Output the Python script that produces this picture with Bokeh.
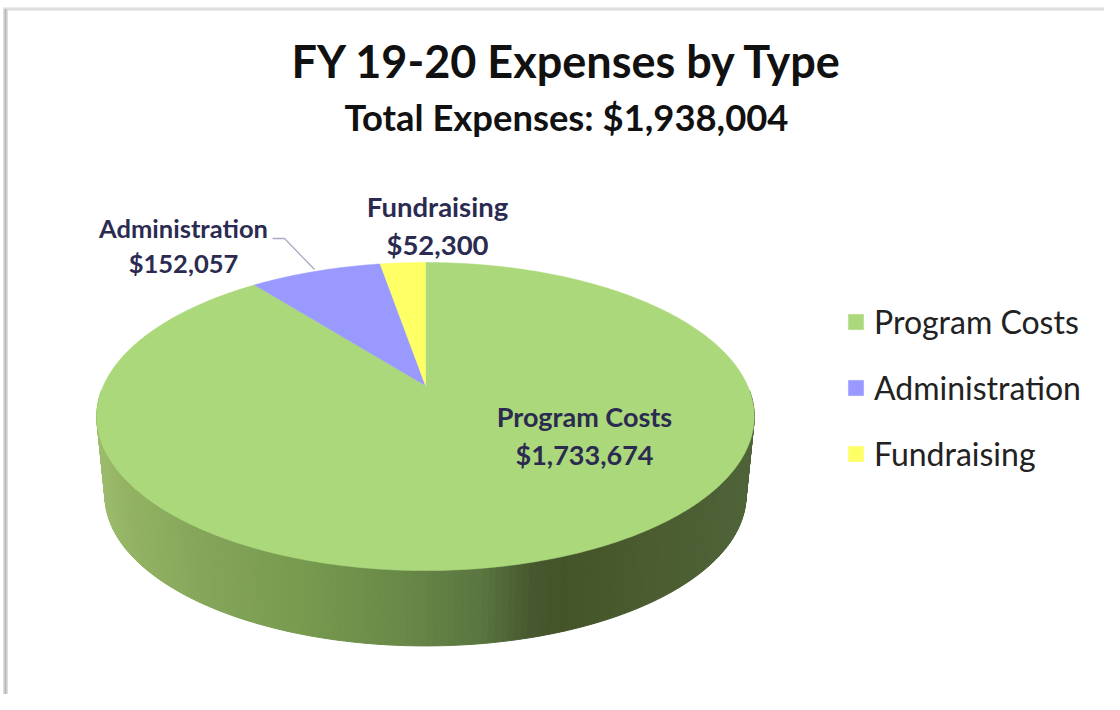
import numpy as np
from bokeh.core.properties import value
from bokeh.embed import file_html
from bokeh.models import Legend, LegendItem, Range1d, Title
from bokeh.plotting import figure
from bokeh.resources import INLINE

# ---- data ----
title_text = "FY 19-20 Expenses by Type"
subtitle_text = "Total Expenses: $1,938,004"
categories = ["Program Costs", "Administration", "Fundraising"]
amounts = [1733674, 152057, 52300]
amount_labels = ["$1,733,674", "$152,057", "$52,300"]

# ---- style ----
slice_colors = ["#abd87a", "#9999ff", "#ffff66"]
label_color = "#2b2b52"
title_font = "Lato"
label_anchor = {"Program Costs": (584, 416, 454, "27px"), "Administration": (183, 227, 262, "25.5px"),
                "Fundraising": (437, 206, 244, "27.5px")}
leader_x, leader_y = [272, 284, 314], [238, 238, 269]

# rim shade: colour by screen x
shade_x = [97, 130, 200, 300, 400, 480, 530, 560, 650, 760]
shade_c = ["#9dbd6e", "#93b263", "#85a65a", "#779a4f", "#698948", "#5a7540", "#47582e", "#445429", "#4a5c30", "#50643a"]

# perspective projection of the pie's unit circle, in reference pixels
APEX_X, APEX_Y = 425.0, 385.0
PERSP, SCALE_X, SCALE_Y = 0.2013, 322.0, 147.8
RIM_DROP, RIM_SCALE = 80.0, 0.975


def project(theta, drop=0.0, scale=1.0):
    u, v = np.sin(theta), np.cos(theta)
    w = 1 + PERSP * v
    return APEX_X + scale * SCALE_X * u / w, APEX_Y + drop - scale * SCALE_Y * v / w


def rgb(h):
    return [int(h[i:i + 2], 16) for i in (1, 3, 5)]


def shade(x):
    arr = np.array([rgb(c) for c in shade_c], dtype=float)
    return "#%02x%02x%02x" % tuple(int(round(np.interp(x, shade_x, arr[:, i]))) for i in range(3))


p = figure(frame_width=1104, frame_height=554, output_backend="svg", toolbar_location=None,
           x_range=Range1d(0, 1104), y_range=Range1d(694, 140), min_border=0, min_border_top=140,
           min_border_left=0, min_border_right=0, min_border_bottom=0, outline_line_color=None,
           background_fill_alpha=0, border_fill_alpha=0)
p.xaxis.visible = False
p.yaxis.visible = False
p.grid.visible = False
# soft card edge along the top and left of the chart, behind the transparent canvas
p.styles = {"background": (
    "linear-gradient(to right,#e8e8e8,#b8b8b8,#e8e8e8) 3px 9px / 5px 685px no-repeat,"
    "linear-gradient(to bottom,#f4f4f4,#d8d8d8,#f4f4f4) 3px 7px / 1101px 4px no-repeat")}

p.add_layout(Title(text=subtitle_text, align="left", offset=344, text_font=title_font, text_font_size="36.4px",
                   text_font_style="bold", text_color="#111111", standoff=4), "above")
p.add_layout(Title(text=title_text, align="left", offset=291, text_font=title_font, text_font_size="45px",
                   text_font_style="bold", text_color="#111111", standoff=6), "above")

# rim, drawn as fine strips round the front of the pie
th = np.radians(np.arange(92, 268.5, 1.0))
for a, b in zip(th[:-1], th[1:]):
    xa, ya = project(a)
    xb, yb = project(b)
    xc, yc = project(b, RIM_DROP, RIM_SCALE)
    xd, yd = project(a, RIM_DROP, RIM_SCALE)
    col = shade((xa + xb + xc + xd) / 4)
    p.patch([xa, xb, xc, xd], [ya, yb, yc, yd], fill_color=col, line_color=col, line_width=1)

# top face, slice angles from the amounts, clockwise from 12 o'clock
fractions = np.array(amounts) / np.sum(amounts)
edges = np.concatenate([[0], np.cumsum(fractions)]) * 2 * np.pi
slices = []
for i, name in enumerate(categories):
    t = np.linspace(edges[i], edges[i + 1], max(8, int(fractions[i] * 720)))
    x, y = project(t)
    r = p.patch(np.r_[APEX_X, x], np.r_[APEX_Y, y], fill_color=slice_colors[i], line_color=slice_colors[i], line_width=0.5)
    slices.append(r)

# data labels
for name, amount in zip(categories, amount_labels):
    ax, y1, y2, size = label_anchor[name]
    for txt, yy in ((name, y1), (amount, y2)):
        p.text([ax], [yy], text=[txt], text_align="center", text_baseline="middle", text_font=value(title_font),
               text_font_size=size, text_font_style="bold", text_color=label_color)
p.line(leader_x, leader_y, line_color="#a9a9c6", line_width=1.3)

legend = Legend(items=[LegendItem(label=c, renderers=[r]) for c, r in zip(categories, slices)],
                location=(846, 221), orientation="vertical", background_fill_alpha=0, border_line_color=None,
                label_text_font=title_font, label_text_font_size="32px", label_text_color="#222222",
                glyph_width=19, glyph_height=19, label_standoff=9, spacing=27, padding=0, margin=0)
p.add_layout(legend, "center")

open("out.html", "w").write(file_html(p, INLINE))
